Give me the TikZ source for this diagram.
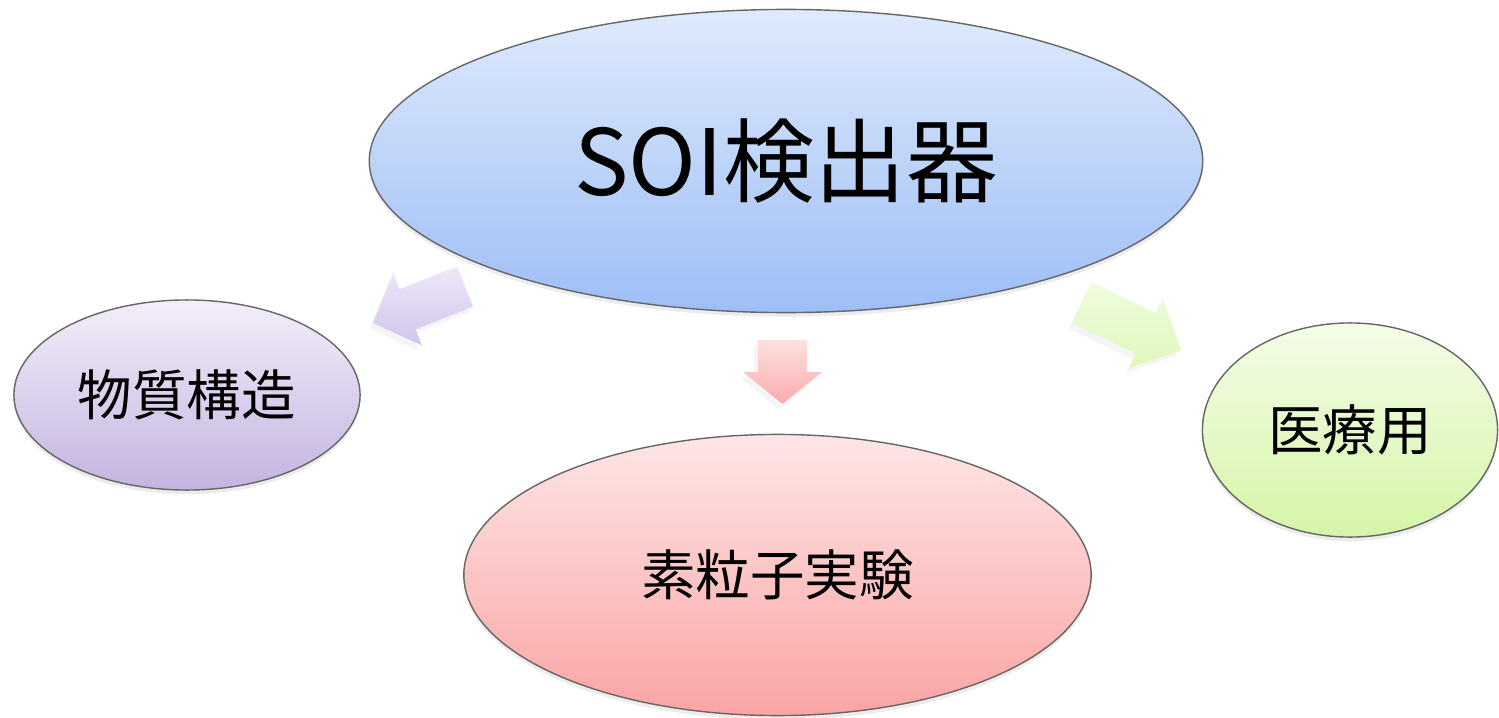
\documentclass[tikz,border=0pt]{standalone}
\usepackage{fontspec}
\setmainfont{Noto Sans CJK JP}
\usetikzlibrary{shapes.geometric,shadows}
\definecolor{bluetop}{RGB}{223,234,252}
\definecolor{bluebot}{RGB}{157,190,246}
\definecolor{purptop}{RGB}{243,238,250}
\definecolor{purpbot}{RGB}{196,180,224}
\definecolor{pinktop}{RGB}{254,230,230}
\definecolor{pinkbot}{RGB}{250,164,164}
\definecolor{greentop}{RGB}{244,252,232}
\definecolor{greenbot}{RGB}{214,245,168}
\definecolor{parrtop}{RGB}{238,232,249}
\definecolor{parrbot}{RGB}{210,196,236}
\definecolor{rarrtop}{RGB}{255,224,224}
\definecolor{rarrbot}{RGB}{250,172,172}
\definecolor{garrtop}{RGB}{240,252,224}
\definecolor{garrbot}{RGB}{222,248,186}
\begin{document}
\begin{tikzpicture}[x=0.01cm,y=-0.01cm,
  bubble/.style={ellipse, draw=black!60, line width=0.4pt, inner sep=0pt,
    drop shadow={opacity=0.15, shadow xshift=0pt, shadow yshift=-1.2pt}},
  blockarrow/.style={draw=none,
    drop shadow={opacity=0.08, shadow xshift=-1pt, shadow yshift=-1.5pt}},
  bigtext/.style={font=\fontsize{26}{30}\selectfont},
  smalltext/.style={font=\fontsize{15.5}{18}\selectfont}]
\useasboundingbox[fill=white] (0,0) rectangle (1499,718);
% central ellipse
\node[bubble, minimum width=8.33cm, minimum height=3.03cm,
  top color=bluetop, bottom color=bluebot, bigtext] (soi) at (786,161) {SOI検出器};
% satellites
\node[bubble, minimum width=3.46cm, minimum height=1.90cm,
  top color=purptop, bottom color=purpbot, smalltext] (mat) at (187,395) {物質構造};
\node[bubble, minimum width=2.95cm, minimum height=2.14cm,
  top color=greentop, bottom color=greenbot, smalltext] (med) at (1350,430) {医療用};
\node[bubble, minimum width=6.27cm, minimum height=2.81cm,
  top color=pinktop, bottom color=pinkbot, smalltext] (hep) at (777.5,575) {素粒子実験};
% block arrows
\shade[blockarrow, top color=parrtop, bottom color=parrbot]
  (457.0,266.4) -- (473.0,306.6) -- (415.6,329.4) -- (421.9,345.4)
  -- (373,323) -- (393.3,273.2) -- (399.6,289.2) -- cycle;
\shade[blockarrow, top color=rarrtop, bottom color=rarrbot]
  (758,340) -- (807,340) -- (807,372) -- (822,372) -- (782.5,404)
  -- (743,372) -- (758,372) -- cycle;
\shade[blockarrow, top color=garrtop, bottom color=garrbot]
  (1091.9,282.0) -- (1156.0,312.8) -- (1162.7,298.7) -- (1181,350)
  -- (1129.5,368.0) -- (1136.3,353.8) -- (1072.2,323.0) -- cycle;
\end{tikzpicture}
\end{document}
